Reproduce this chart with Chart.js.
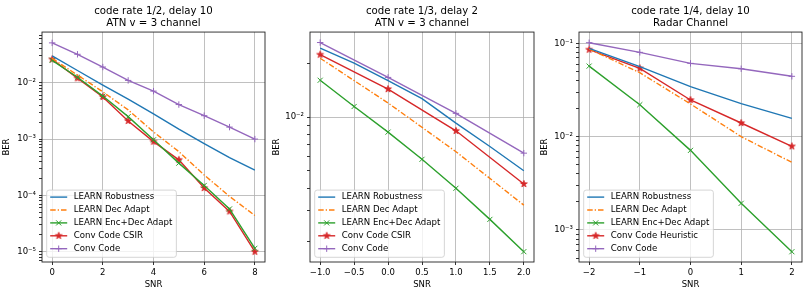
<!DOCTYPE html>
<html>
<head>
<meta charset="utf-8">
<script src="https://cdn.jsdelivr.net/npm/chart.js@4"></script>
<style>
  html, body { margin: 0; padding: 0; background: #fff; }
  #wrap { position: relative; width: 809px; height: 292px; }
  canvas { position: absolute; top: 0; }
</style>
</head>
<body>
<div id="wrap">
  <canvas id="c1" width="270" height="292" style="left:0px"></canvas>
  <canvas id="c2" width="270" height="292" style="left:270px"></canvas>
  <canvas id="c3" width="269" height="292" style="left:540px"></canvas>
</div>
<script>
// Panel 1 - code rate 1/2, delay 10, ATN channel
const p1Snr = [0, 1, 2, 3, 4, 5, 6, 7, 8];
const p1Robust = [0.030, 0.0165, 0.0091, 0.0051, 0.0028, 0.0015, 0.00083, 0.00047, 0.00028];
const p1DecAdapt = [0.027, 0.0137, 0.0069, 0.0033, 0.00134, 0.0006, 0.00023, 0.000096, 0.000044];
const p1EncDec = [0.025, 0.0125, 0.0058, 0.0025, 0.00097, 0.000374, 0.00015, 0.0000575, 0.0000115];
const p1Csir = [0.026, 0.012, 0.0056, 0.0021, 0.0009, 0.000428, 0.000135, 0.000052, 0.00001];
const p1Conv = [0.051, 0.032, 0.019, 0.011, 0.0071, 0.0041, 0.0026, 0.00163, 0.001];
const p1XTicks = [0, 2, 4, 6, 8];

// Panel 2 - code rate 1/3, delay 2, ATN channel
const p2SnrHalf = [-1, -0.5, 0, 0.5, 1, 1.5, 2];
const p2SnrInt = [-1, 0, 1, 2];
const p2Robust = [0.0244, 0.0201, 0.016, 0.0127, 0.00925, 0.00684, 0.0050];
const p2DecAdapt = [0.0214, 0.012, 0.0064, 0.00321];
const p2EncDec = [0.0161, 0.01147, 0.00824, 0.0058, 0.00399, 0.00267, 0.00176];
const p2Csir = [0.0224, 0.01436, 0.00838, 0.00422];
const p2Conv = [0.0262, 0.0167, 0.0105, 0.00628];
const p2XTicks = [-1, -0.5, 0, 0.5, 1, 1.5, 2];

// Panel 3 - code rate 1/4, delay 10, radar channel
const p3Snr = [-2, -1, 0, 1, 2];
const p3Robust = [0.0884, 0.0562, 0.0343, 0.0226, 0.0157];
const p3DecAdapt = [0.087, 0.0484, 0.0224, 0.0100, 0.0053];
const p3EncDec = [0.057, 0.022, 0.00713, 0.00193, 0.000585];
const p3Heur = [0.0855, 0.054, 0.0247, 0.014, 0.00787];
const p3Conv = [0.1015, 0.080, 0.061, 0.0534, 0.0443];
const p3XTicks = [-2, -1, 0, 1, 2];

const FONT = 'DejaVu Sans';
const tickFont = {family: FONT, size: 8.5, lineHeight: 1.2};

function starImage(color, r) {
    const c = document.createElement('canvas');
    const s = Math.ceil(r * 2 + 2);
    c.width = s; c.height = s;
    const g = c.getContext('2d');
    g.beginPath();
    for (let i = 0; i < 10; i++) {
        const rr = i % 2 === 0 ? r : r * 0.4;
        const a = -Math.PI / 2 + i * Math.PI / 5;
        const px = s / 2 + rr * Math.cos(a), py = s / 2 + rr * Math.sin(a);
        if (i === 0) g.moveTo(px, py); else g.lineTo(px, py);
    }
    g.closePath();
    g.fillStyle = color; g.fill();
    g.strokeStyle = color; g.lineWidth = 0.8; g.stroke();
    return c;
}

const styles = {
    robust: {color: '#1f77b4'},
    dec: {color: '#ff7f0e', dash: [5.5, 2, 1.3, 2]},
    encdec: {color: '#2ca02c', point: 'crossRot', radius: 3.6},
    csir: {color: '#d62728', point: starImage('#d62728', 3.6), radius: 3},
    conv: {color: '#9467bd', point: 'cross', radius: 3.2}
};

function series(label, xs, ys, st) {
    return {
        label: label,
        data: xs.map((x, i) => ({x: x, y: ys[i]})),
        borderColor: st.color,
        backgroundColor: st.color,
        borderWidth: 1.4,
        borderDash: st.dash || [],
        pointStyle: st.point || false,
        pointRadius: st.point ? st.radius : 0,
        pointBorderWidth: 1,
        pointBorderColor: st.color,
        pointBackgroundColor: st.color,
        tension: 0,
        fill: false
    };
}

const SUP = {'-': '\u207B', '0': '\u2070', '1': '\u00B9', '2': '\u00B2', '3': '\u00B3', '4': '\u2074', '5': '\u2075', '6': '\u2076', '7': '\u2077', '8': '\u2078', '9': '\u2079'};
function isDecade(v) {
    const e = Math.log10(v);
    return Math.abs(e - Math.round(e)) < 1e-9;
}
function decadeLabel(v) {
    const e = String(Math.round(Math.log10(v)));
    return '10' + e.split('').map(ch => SUP[ch]).join('');
}
function logTicks(min, max) {
    const out = [];
    for (let e = Math.floor(Math.log10(min)); e <= Math.ceil(Math.log10(max)); e++) {
        for (let m = 1; m <= 9; m++) {
            const v = m * Math.pow(10, e);
            if (v >= min && v < max * 0.999) out.push({value: v});
        }
    }
    return out;
}

function drawMarker(ctx, style, x, y, r, color) {
    if (typeof style === 'object') {
        ctx.drawImage(style, x - style.width / 2, y - style.height / 2);
        return;
    }
    const d = style === 'crossRot' ? r * Math.SQRT1_2 : r;
    ctx.beginPath();
    ctx.strokeStyle = color;
    ctx.lineWidth = 1;
    if (style === 'crossRot') {
        ctx.moveTo(x - d, y - d); ctx.lineTo(x + d, y + d);
        ctx.moveTo(x - d, y + d); ctx.lineTo(x + d, y - d);
    } else {
        ctx.moveTo(x - d, y); ctx.lineTo(x + d, y);
        ctx.moveTo(x, y - d); ctx.lineTo(x, y + d);
    }
    ctx.stroke();
}

function roundRect(ctx, x, y, w, h, r) {
    ctx.beginPath();
    ctx.moveTo(x + r, y);
    ctx.arcTo(x + w, y, x + w, y + h, r);
    ctx.arcTo(x + w, y + h, x, y + h, r);
    ctx.arcTo(x, y + h, x, y, r);
    ctx.arcTo(x, y, x + w, y, r);
    ctx.closePath();
}

// axes box like matplotlib spines
const spines = {
    id: 'spines',
    afterDatasetsDraw(chart) {
        const {ctx, chartArea: a} = chart;
        ctx.save();
        ctx.strokeStyle = '#222';
        ctx.lineWidth = 0.9;
        ctx.strokeRect(a.left, a.top, a.right - a.left, a.bottom - a.top);
        ctx.restore();
    }
};

// legend drawn inside the lower left corner of the plot
const insideLegend = {
    id: 'insideLegend',
    afterDraw(chart) {
        const {ctx, chartArea: a} = chart;
        const items = chart.data.datasets;
        ctx.save();
        ctx.font = '8.6px "' + FONT + '"';
        const textW = Math.max(...items.map(d => ctx.measureText(d.label).width));
        const rowH = 12.9;
        const left = a.left + 4.7;
        const bottom = a.bottom - 4.7;
        const top = bottom - 8.6 - (items.length - 1) * rowH - 7;
        const width = 3.5 + 17 + 6.5 + textW + 4;
        roundRect(ctx, left, top, width, bottom - top, 2.5);
        ctx.fillStyle = 'rgba(255,255,255,0.8)';
        ctx.fill();
        ctx.strokeStyle = '#cccccc';
        ctx.lineWidth = 0.8;
        ctx.stroke();
        items.forEach((d, i) => {
            const y = top + 7 + i * rowH;
            const x0 = left + 3.5, x1 = x0 + 17;
            ctx.beginPath();
            ctx.setLineDash(d.borderDash);
            ctx.strokeStyle = d.borderColor;
            ctx.lineWidth = d.borderWidth;
            ctx.moveTo(x0, y); ctx.lineTo(x1, y);
            ctx.stroke();
            ctx.setLineDash([]);
            if (d.pointStyle) drawMarker(ctx, d.pointStyle, (x0 + x1) / 2, y, d.pointRadius, d.borderColor);
            ctx.fillStyle = '#000';
            ctx.textBaseline = 'middle';
            ctx.textAlign = 'left';
            ctx.fillText(d.label, x1 + 6.5, y);
        });
        ctx.restore();
    }
};

function xLabel(decimals) {
    return v => (decimals ? v.toFixed(decimals) : String(v)).replace('-', '\u2212');
}

function makeChart(id, p) {
    new Chart(document.getElementById(id).getContext('2d'), {
        type: 'line',
        data: {datasets: p.datasets},
        options: {
            responsive: false,
            animation: false,
            events: [],
            layout: {padding: {left: 0, right: p.rightPad, top: 0, bottom: 0}},
            plugins: {
                legend: {display: false},
                tooltip: {enabled: false},
                title: {
                    display: true,
                    text: p.title,
                    color: '#000',
                    fullSize: false,
                    font: {family: FONT, size: 10.2, weight: 'normal', lineHeight: 1.14},
                    padding: {top: 5.9, bottom: 2.9}
                }
            },
            scales: {
                x: {
                    type: 'linear',
                    min: p.xMin, max: p.xMax,
                    afterBuildTicks: s => { s.ticks = p.xTicks.map(v => ({value: v})); },
                    afterFit: s => { s.height = 30; },
                    ticks: {callback: xLabel(p.xDecimals), font: tickFont, color: '#000', padding: 2.5, autoSkip: false, maxRotation: 0},
                    grid: {color: '#b0b0b0', lineWidth: 0.8, tickColor: '#000', tickLength: 3, tickWidth: 0.8},
                    border: {display: false},
                    title: {display: true, text: 'SNR', font: tickFont, color: '#000', padding: {top: 0, bottom: 2}}
                },
                y: {
                    type: 'logarithmic',
                    min: p.yMin, max: p.yMax,
                    afterBuildTicks: s => { s.ticks = logTicks(p.yMin, p.yMax); },
                    afterFit: s => { s.width = p.areaLeft; },
                    ticks: {
                        callback: v => isDecade(v) ? decadeLabel(v) : '',
                        font: tickFont, color: '#000', padding: 3, autoSkip: false
                    },
                    grid: {
                        color: c => (c.tick && isDecade(c.tick.value)) ? '#b0b0b0' : 'rgba(0,0,0,0)',
                        lineWidth: 0.8, tickColor: '#000', tickLength: 3, tickWidth: 0.8
                    },
                    border: {display: false},
                    title: {display: true, text: 'BER', font: tickFont, color: '#000', padding: {top: p.yTitlePad, bottom: 0}}
                }
            }
        },
        plugins: [spines, insideLegend]
    });
}

makeChart('c1', {
    title: ['code rate 1/2, delay 10', 'ATN v = 3 channel'],
    areaLeft: 42, rightPad: 4, yTitlePad: 1.3,
    xMin: -0.4, xMax: 8.4, xTicks: p1XTicks, xDecimals: 0,
    yMin: 6.57e-6, yMax: 0.0794,
    datasets: [
        series('LEARN Robustness', p1Snr, p1Robust, styles.robust),
        series('LEARN Dec Adapt', p1Snr, p1DecAdapt, styles.dec),
        series('LEARN Enc+Dec Adapt', p1Snr, p1EncDec, styles.encdec),
        series('Conv Code CSIR', p1Snr, p1Csir, styles.csir),
        series('Conv Code', p1Snr, p1Conv, styles.conv)
    ]
});

makeChart('c2', {
    title: ['code rate 1/3, delay 2', 'ATN v = 3 channel'],
    areaLeft: 40, rightPad: 6, yTitlePad: 1.3,
    xMin: -1.15, xMax: 2.15, xTicks: p2XTicks, xDecimals: 1,
    yMin: 0.00154, yMax: 0.0300,
    datasets: [
        series('LEARN Robustness', p2SnrHalf, p2Robust, styles.robust),
        series('LEARN Dec Adapt', p2SnrInt, p2DecAdapt, styles.dec),
        series('LEARN Enc+Dec Adapt', p2SnrHalf, p2EncDec, styles.encdec),
        series('Conv Code CSIR', p2SnrInt, p2Csir, styles.csir),
        series('Conv Code', p2SnrInt, p2Conv, styles.conv)
    ]
});

makeChart('c3', {
    title: ['code rate 1/4, delay 10', 'Radar Channel'],
    areaLeft: 39, rightPad: 7, yTitlePad: 0,
    xMin: -2.2, xMax: 2.2, xTicks: p3XTicks, xDecimals: 0,
    yMin: 4.54e-4, yMax: 0.132,
    datasets: [
        series('LEARN Robustness', p3Snr, p3Robust, styles.robust),
        series('LEARN Dec Adapt', p3Snr, p3DecAdapt, styles.dec),
        series('LEARN Enc+Dec Adapt', p3Snr, p3EncDec, styles.encdec),
        series('Conv Code Heuristic', p3Snr, p3Heur, styles.csir),
        series('Conv Code', p3Snr, p3Conv, styles.conv)
    ]
});
</script>
</body>
</html>
